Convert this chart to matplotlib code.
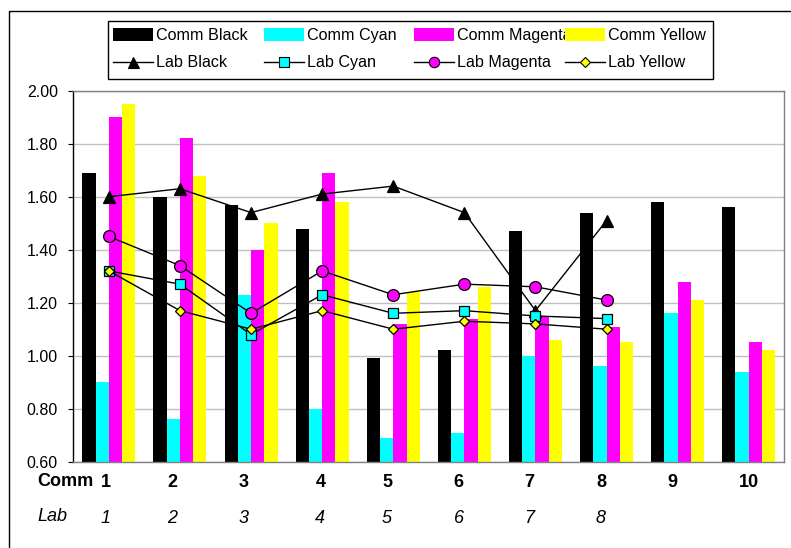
import numpy as np
import matplotlib
matplotlib.use("Agg")
import matplotlib.pyplot as plt
from matplotlib.transforms import Affine2D, blended_transform_factory
from matplotlib.patches import Rectangle
from matplotlib.lines import Line2D

plt.rcParams['font.family'] = ['Liberation Sans', 'DejaVu Sans']

# ---- data ----
comm_labels = ["1", "2", "3", "4", "5", "6", "7", "8", "9", "10"]
lab_labels = ["1", "2", "3", "4", "5", "6", "7", "8"]

comm_black = [1.69, 1.60, 1.57, 1.48, 0.99, 1.02, 1.47, 1.54, 1.58, 1.56]
comm_cyan = [0.90, 0.76, 1.23, 0.80, 0.69, 0.71, 1.00, 0.96, 1.16, 0.94]
comm_magenta = [1.90, 1.82, 1.40, 1.69, 1.12, 1.14, 1.15, 1.11, 1.28, 1.05]
comm_yellow = [1.95, 1.68, 1.50, 1.58, 1.24, 1.26, 1.06, 1.05, 1.21, 1.02]

lab_black = [1.60, 1.63, 1.54, 1.61, 1.64, 1.54, 1.17, 1.51]
lab_cyan = [1.32, 1.27, 1.08, 1.23, 1.16, 1.17, 1.15, 1.14]
lab_magenta = [1.45, 1.34, 1.16, 1.32, 1.23, 1.27, 1.26, 1.21]
lab_yellow = [1.32, 1.17, 1.10, 1.17, 1.10, 1.13, 1.12, 1.10]

yticks = [0.60, 0.80, 1.00, 1.20, 1.40, 1.60, 1.80, 2.00]

# ---- styles ----
W, H = 791, 548
BLACK, CYAN, MAGENTA, YELLOW = "#000000", "#00FFFF", "#FF00FF", "#FFFF00"

bar_series = [("Comm Black", comm_black, BLACK),
              ("Comm Cyan", comm_cyan, CYAN),
              ("Comm Magenta", comm_magenta, MAGENTA),
              ("Comm Yellow", comm_yellow, YELLOW)]
line_series = [("Lab Black", lab_black, "^", BLACK, 9.0),
               ("Lab Cyan", lab_cyan, "s", CYAN, 7.5),
               ("Lab Magenta", lab_magenta, "o", MAGENTA, 8.5),
               ("Lab Yellow", lab_yellow, "D", YELLOW, 5.5)]

fig = plt.figure(figsize=(W / 100, H / 100), dpi=100)
# pixel coordinates measured from the top-left corner
px = Affine2D().scale(1 / W, -1 / H).translate(0, 1) + fig.transFigure

# outer chart frame
fig.add_artist(Rectangle((9, 11), 900, 700, transform=px, fill=False,
                         edgecolor="black", linewidth=1.0))

ax_l, ax_r, ax_t, ax_b = 73.3, 784.3, 90.7, 461.7
ax = fig.add_axes([ax_l / W, 1 - ax_b / H, (ax_r - ax_l) / W, (ax_b - ax_t) / H])

x = np.arange(1, len(comm_labels) + 1)
bw = 0.1864
for k, (name, vals, col) in enumerate(bar_series):
    ax.bar(x + (k - 1.5) * bw, np.array(vals) - 0.6, bw, bottom=0.6,
           color=col, linewidth=0, zorder=2)

xl = np.arange(1, len(lab_labels) + 1)
for name, vals, mk, col, ms in line_series:
    ax.plot(xl, vals, color="black", linewidth=1.0, marker=mk, markersize=ms,
            markerfacecolor=col, markeredgecolor="black", markeredgewidth=0.9,
            zorder=3)

ax.set_xlim(0.5, len(comm_labels) + 0.5)
ax.set_ylim(0.6, 2.0)
ax.set_yticks(yticks)
ax.set_yticklabels([f"{v:.2f}" for v in yticks], fontsize=11.5)
ax.set_xticks([])
ax.tick_params(axis="y", direction="out", length=3.6, width=0.8, pad=7.5,
               color="black")
ax.grid(axis="y", color="#c0c0c0", linewidth=1.0, zorder=0)
ax.set_axisbelow(True)
for side in ("top", "right", "bottom"):
    ax.spines[side].set_color("#808080")
    ax.spines[side].set_linewidth(1.0)
ax.spines["left"].set_color("black")
ax.spines["left"].set_linewidth(1.0)

# category label rows
xtr = blended_transform_factory(ax.transData, px)
shift_px = [-3.4, -7.4, -7.1, -1.9, -6.3, -5.8, -5.9, -5.6, -5.7, 0.5]
unit_px = (ax_r - ax_l) / len(comm_labels)
fig.text(37.3, 485.7, "Comm", transform=px, fontsize=13, fontweight="bold",
         ha="left", va="baseline")
fig.text(37.3, 520.7, "Lab", transform=px, fontsize=13, fontstyle="italic",
         ha="left", va="baseline")
for i, lbl in enumerate(comm_labels):
    fig.text(x[i] + shift_px[i] / unit_px, 487.3, lbl, transform=xtr,
             fontsize=13, fontweight="bold", ha="center", va="baseline")
for i, lbl in enumerate(lab_labels):
    fig.text(xl[i] + shift_px[i] / unit_px, 523.3, lbl, transform=xtr,
             fontsize=13, fontstyle="italic", ha="center", va="baseline")

# legend
fig.add_artist(Rectangle((108, 21), 605.3, 57.7, transform=px,
                         facecolor="white", edgecolor="black", linewidth=1.0,
                         zorder=5))
col_x = [113, 264, 414, 565]
hlen = 39.5
row_base = [40.3, 66.6]
row_mid = [34.3, 61.5]
for k, (name, vals, col) in enumerate(bar_series):
    fig.add_artist(Rectangle((col_x[k], row_mid[0] - 6.3), hlen, 12.7,
                             transform=px, facecolor=col, linewidth=0,
                             zorder=6))
    fig.text(col_x[k] + hlen + 3.5, row_base[0], name, transform=px,
             fontsize=11.6, ha="left", va="baseline", zorder=5.5)
for k, (name, vals, mk, col, ms) in enumerate(line_series):
    fig.add_artist(Line2D([col_x[k], col_x[k] + hlen], [row_mid[1]] * 2,
                          transform=px, color="black", linewidth=1.0,
                          zorder=6))
    fig.add_artist(Line2D([col_x[k] + hlen / 2], [row_mid[1]], transform=px,
                          marker=mk, markersize=ms * 0.88, markerfacecolor=col,
                          markeredgecolor="black", markeredgewidth=0.8,
                          linestyle="none", zorder=6))
    fig.text(col_x[k] + hlen + 3.5, row_base[1], name, transform=px,
             fontsize=11.6, ha="left", va="baseline", zorder=6)

fig.savefig("out.png", dpi=100)
